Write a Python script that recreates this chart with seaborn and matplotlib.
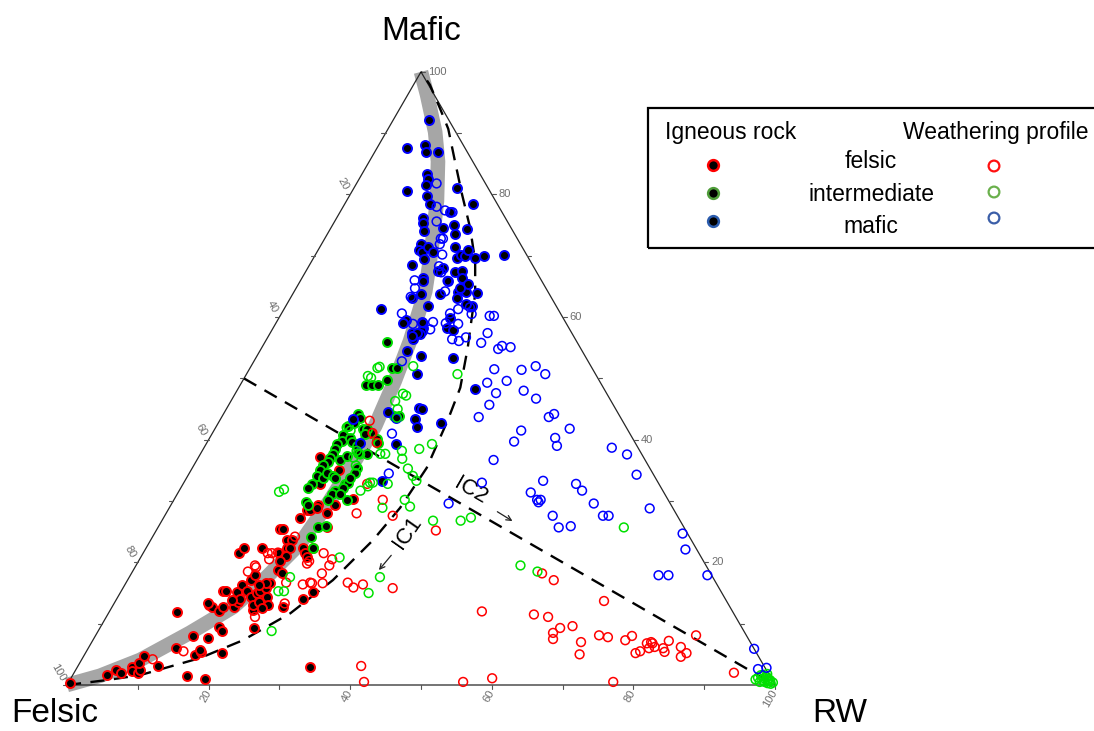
import numpy as np
import pandas as pd
import matplotlib
matplotlib.use("Agg")
import matplotlib.pyplot as plt
from matplotlib.patches import Rectangle
import seaborn as sns

sns.set_style("white")
plt.rcParams["font.family"] = ["Liberation Sans", "DejaVu Sans"]
plt.rcParams["text.color"] = "black"

# Compositions in percent as (Mafic, RW); Felsic is the remainder to 100.
ign_felsic = [
    (0.3, 0.3), (1.6, 4.8), (2.4, 5.7), (2.0, 6.6), (2.9, 7.7), (2.3, 8.1), (2.0, 9.0),
    (2.4, 9.1), (3.6, 8.4), (4.7, 8.5), (3.1, 11.3), (1.5, 16.2), (1.0, 19.0), (6.0, 12.4),
    (8.0, 13.8), (4.9, 15.6), (5.4, 16.2), (7.6, 16.1), (5.2, 19.3), (9.4, 16.8), (8.8, 17.5),
    (13.0, 13.6), (12.7, 14.1), (11.9, 9.6), (12.0, 15.5), (12.7, 15.7), (15.3, 14.4),
    (15.4, 14.8), (12.8, 17.2), (13.5, 17.4), (15.1, 16.5), (16.3, 16.5), (9.3, 21.7),
    (12.2, 20.2), (21.6, 13.5), (22.4, 13.8), (22.4, 16.3), (17.1, 17.5), (15.4, 17.7),
    (14.3, 18.9), (15.0, 19.3), (15.4, 19.6), (13.8, 20.8), (14.3, 21.1), (13.0, 21.9),
    (13.0, 19.8), (13.5, 20.3), (12.5, 21.3), (15.9, 20.2), (16.6, 20.4), (16.7, 19.7),
    (18.7, 20.4), (21.5, 19.2), (25.5, 17.4), (25.5, 17.7), (27.3, 19.3), (28.5, 19.7),
    (28.6, 20.0), (29.3, 20.8), (28.9, 20.9), (28.1, 22.7), (29.3, 23.2), (30.4, 25.2),
    (25.7, 23.9), (23.6, 19.3), (23.6, 20.0), (22.4, 19.9), (22.3, 20.4), (21.1, 20.4),
    (20.3, 20.0), (18.2, 21.3), (22.3, 22.2), (21.6, 22.8), (20.8, 23.5), (22.4, 23.5),
    (14.1, 17.4), (13.8, 16.4), (12.7, 24.2), (14.1, 26.3), (15.1, 27.2), (13.3, 13.2),
    (2.9, 32.9), (5.7, 16.0), (17.9, 17.6), (16.3, 18.9), (37.2, 17.1), (35.1, 20.8),
    (32.8, 19.3), (41.1, 22.4),
]

ign_intermediate = [
    (55.9, 17.2), (51.7, 20.0), (51.7, 20.7), (48.9, 17.8), (48.9, 18.6), (48.9, 19.5),
    (49.8, 20.3), (44.2, 19.0), (43.6, 19.6), (42.8, 19.1), (41.8, 20.9), (40.7, 18.6),
    (39.8, 18.9), (40.3, 19.8), (39.7, 20.4), (39.0, 21.4), (37.9, 22.1), (37.7, 23.5),
    (39.3, 18.5), (38.5, 18.6), (37.7, 18.7), (40.2, 23.7), (39.5, 24.2), (37.1, 18.6),
    (36.3, 18.7), (35.8, 18.2), (36.7, 20.2), (37.4, 20.8), (35.0, 18.2), (34.1, 18.3),
    (33.8, 19.2), (34.5, 19.5), (34.1, 20.5), (33.7, 21.0), (35.4, 23.2), (34.6, 23.4),
    (32.8, 18.2), (32.2, 17.9), (32.8, 22.9), (33.0, 23.2), (33.8, 23.1), (41.8, 21.5),
    (41.0, 21.6), (32.2, 22.9), (31.7, 22.0), (31.2, 21.8), (31.2, 22.9), (30.1, 21.8),
    (29.8, 18.8), (29.4, 19.3), (30.1, 24.5), (25.7, 22.6), (25.9, 23.6), (24.1, 22.4),
    (22.3, 23.6), (43.9, 24.3), (43.9, 24.9), (42.3, 18.5),
]

ign_mafic = [
    (92.2, 5.0), (87.5, 4.3), (88.1, 6.5), (87.0, 7.2), (87.0, 8.9), (83.4, 9.1), (82.6, 9.7),
    (81.5, 10.0), (80.6, 7.7), (81.0, 14.6), (79.8, 10.9), (78.4, 12.1), (78.4, 18.1),
    (76.1, 12.2), (75.3, 12.6), (77.1, 15.6), (74.6, 15.8), (75.0, 17.1), (73.5, 18.1),
    (74.3, 19.4), (74.1, 13.4), (71.9, 14.1), (70.9, 14.2), (70.6, 14.8), (71.4, 15.3),
    (70.7, 16.3), (71.5, 19.0), (69.4, 15.7), (68.5, 14.5), (68.0, 19.1), (69.6, 20.3),
    (70.1, 20.6), (69.9, 21.3), (69.6, 22.8), (69.9, 24.0), (70.2, 26.6), (70.9, 21.2),
    (67.3, 21.1), (67.6, 22.0), (66.3, 17.1), (65.9, 17.4), (65.9, 20.8), (66.3, 22.7),
    (64.1, 23.2), (64.1, 24.3), (63.9, 25.9), (63.1, 17.2), (63.7, 18.2), (63.7, 20.8),
    (63.1, 23.6), (67.5, 18.7), (65.4, 23.9), (64.7, 23.1), (61.8, 20.1), (61.3, 13.7),
    (59.8, 24.2), (61.8, 26.3), (62.1, 25.3), (58.2, 21.2), (58.2, 24.6), (59.5, 18.1),
    (59.0, 17.9), (59.2, 20.5), (57.9, 25.5), (57.7, 21.3), (57.2, 21.2), (57.4, 20.0),
    (56.4, 20.7), (54.5, 20.8), (53.7, 23.1), (53.3, 27.9), (50.7, 24.1), (48.3, 33.5),
    (45.2, 27.1), (45.0, 27.6), (43.6, 24.7), (43.4, 27.4), (42.1, 28.4), (44.6, 23.0),
    (42.8, 31.4), (39.3, 26.8), (43.4, 18.7), (39.5, 21.6), (33.2, 27.9), (57.4, 20.7),
    (56.9, 20.3),
]

wp_felsic = [
    (18.2, 58.0), (17.1, 60.2), (13.7, 69.0), (12.0, 52.6), (11.5, 60.2), (11.1, 62.4),
    (9.6, 66.6), (9.3, 65.0), (8.5, 64.4), (7.5, 64.9), (7.0, 69.1), (5.0, 69.9), (8.1, 71.1),
    (7.8, 72.5), (7.3, 75.2), (8.0, 75.8), (6.8, 78.5), (7.0, 79.0), (6.8, 79.3), (6.0, 79.2),
    (6.2, 79.9), (6.0, 81.2), (5.4, 81.7), (7.2, 81.4), (6.2, 83.6), (4.6, 84.4), (5.2, 84.9),
    (5.2, 77.7), (5.5, 78.2), (8.1, 84.8), (2.0, 93.2), (0.5, 55.7), (1.1, 59.5), (0.5, 76.9),
    (3.1, 40.0), (0.5, 41.7), (4.2, 10.0), (5.5, 13.7), (18.5, 16.3), (19.5, 16.8),
    (19.2, 17.1), (20.5, 18.3), (21.5, 18.2), (21.6, 19.0), (13.3, 24.1), (11.1, 21.0),
    (43.1, 21.2), (39.5, 24.0), (28.0, 26.9), (27.6, 32.2), (30.2, 29.5), (25.2, 39.5),
    (32.8, 26.0), (21.5, 25.5), (20.5, 27.2), (19.5, 27.3), (19.8, 24.0), (20.2, 24.1),
    (18.2, 26.9), (16.7, 26.0), (16.6, 26.3), (16.4, 25.1), (16.6, 27.8), (16.7, 31.3),
    (15.9, 32.5), (16.4, 33.6), (15.8, 38.1), (16.7, 22.6), (24.2, 20.1), (21.5, 17.6),
    (41.1, 22.6),
]

wp_intermediate = [
    (51.7, 18.0), (51.9, 18.2), (50.4, 17.3), (50.1, 17.9), (52.0, 22.9), (46.3, 23.2),
    (45.0, 24.2), (47.5, 23.7), (47.2, 24.3), (43.6, 24.8), (38.5, 30.5), (39.3, 31.9),
    (38.2, 28.2), (36.9, 28.9), (37.7, 25.4), (42.0, 18.5), (41.5, 19.3), (37.1, 21.9),
    (38.2, 21.8), (37.6, 22.6), (35.8, 22.9), (33.0, 26.3), (33.0, 26.7), (32.8, 28.9),
    (31.5, 14.2), (31.9, 14.7), (50.7, 29.8), (37.7, 26.1), (35.3, 30.5), (34.1, 31.8),
    (26.8, 42.2), (27.3, 43.4), (25.7, 65.8), (19.5, 54.3), (18.5, 57.2), (33.3, 32.7),
    (32.4, 26.3), (31.7, 25.6), (28.9, 30.1), (30.2, 32.6), (29.1, 33.9), (26.8, 38.3),
    (20.8, 28.1), (17.6, 22.7), (15.3, 22.2), (15.3, 23.0), (17.6, 35.4), (15.0, 35.1),
    (8.8, 24.5), (1.2, 97.0), (0.8, 97.8), (0.5, 98.3), (0.3, 98.8), (1.5, 97.5), (1.8, 98.0),
    (0.6, 99.0), (1.0, 98.5), (0.2, 99.3), (0.9, 96.8), (1.3, 98.2), (0.7, 98.6), (0.4, 99.5),
    (1.1, 97.9), (0.8, 98.9), (1.6, 97.2), (0.5, 97.6),
]

wp_mafic = [
    (81.8, 11.3), (78.0, 13.2), (77.4, 14.7), (77.1, 15.9), (75.6, 14.4), (72.8, 16.4),
    (72.8, 16.7), (71.9, 16.7), (70.2, 17.9), (68.3, 18.4), (67.3, 19.2), (65.9, 20.8),
    (64.2, 21.3), (66.0, 16.1), (64.7, 16.8), (63.3, 16.9), (60.6, 17.0), (58.9, 19.4),
    (59.0, 20.8), (59.2, 22.1), (58.0, 22.3), (60.6, 23.8), (61.3, 24.6), (58.9, 25.8),
    (56.7, 28.0), (56.1, 27.3), (56.4, 26.2), (61.6, 26.1), (60.5, 26.9), (60.2, 29.6),
    (60.2, 30.2), (52.8, 20.9), (41.0, 25.4), (34.5, 28.2), (59.0, 24.0), (57.4, 30.7),
    (55.8, 30.6), (54.8, 33.5), (55.3, 33.8), (55.1, 35.1), (51.5, 34.6), (51.4, 38.5),
    (52.0, 40.2), (50.7, 42.2), (49.6, 37.3), (49.3, 34.7), (47.6, 36.8), (48.0, 40.5),
    (46.7, 42.9), (45.7, 36.8), (43.7, 36.3), (43.7, 46.2), (44.2, 46.7), (41.8, 50.1),
    (41.5, 43.4), (39.7, 43.3), (40.3, 48.8), (39.0, 49.7), (36.7, 41.9), (38.7, 57.6),
    (37.6, 60.3), (34.3, 63.3), (33.0, 42.1), (33.3, 50.6), (31.4, 49.8), (30.2, 51.3),
    (29.8, 51.7), (30.2, 51.8), (32.8, 55.5), (31.7, 56.9), (29.6, 59.6), (29.6, 39.1),
    (27.6, 54.8), (25.7, 56.6), (25.9, 58.2), (27.6, 61.9), (27.6, 62.7), (28.8, 67.9),
    (24.7, 74.6), (22.1, 76.3), (17.9, 74.6), (17.9, 76.0), (17.9, 81.5), (5.9, 94.1),
    (2.6, 96.3), (2.8, 97.4),
]

# Mixing trend (grey band) and the IC1 envelope (dashed curve), as (Mafic, RW)
band_mafic = [0, 1.5, 4.1, 8.5, 12.7, 17.6, 23.1, 30.1, 36.6, 42.3, 49.6, 56.1, 64.2,
              70.7, 78.9, 85.4, 90.2, 96.3, 100]
band_rw = [0, 3.9, 8.3, 13.1, 17.1, 19.4, 21.4, 22.1, 22.4, 22.4, 21.5, 20.4, 18.5,
           16.1, 12.8, 9.7, 6.9, 2.7, 0]
ic1_mafic = [0, 0.8, 1.6, 4.4, 7.3, 11.7, 17.1, 23.6, 28.9, 35.4, 43.1, 48.5, 55.0,
             61.0, 63.7, 69.1, 74.5, 80.0, 85.4, 90.7, 94.0, 97.9, 100]
ic1_rw = [0, 5.2, 9.5, 16.6, 21.2, 25.7, 29.0, 31.4, 32.6, 33.1, 32.2, 31.3, 29.1,
          26.8, 25.8, 23.1, 19.7, 15.8, 12.1, 8.5, 5.7, 2.3, 0]
ic2_mafic = [50, 0]
ic2_rw = [0, 100]

tick_values = [10, 20, 30, 40, 50, 60, 70, 80, 90, 100]
label_values = [20, 40, 60, 80, 100]

H3 = np.sqrt(3) / 2


def to_xy(mafic, rw):
    m = np.asarray(mafic, dtype=float)
    r = np.asarray(rw, dtype=float)
    return r + m / 2, m * H3


def frame(pairs):
    df = pd.DataFrame(pairs, columns=["mafic", "rw"])
    df["felsic"] = 100 - df["mafic"] - df["rw"]
    df["x"], df["y"] = to_xy(df["mafic"], df["rw"])
    return df


W, H = 1094, 731
PX = 7.08          # pixels per percent unit
OX, OY = 67, 685   # Felsic corner in pixels

fig = plt.figure(figsize=(W / 100, H / 100), dpi=100)
ax = fig.add_axes([0, 0, 1, 1])

# triangle frame
ax.plot([0, 100, 50, 0], [0, 0, 100 * H3, 0], color="#262626", lw=0.9, zorder=2)

tick_len = 0.6
tick_col = "#555555"
lab_col = "#6e6e6e"
for v in tick_values:
    # bottom edge: RW
    ax.plot([v, v], [0, -tick_len], color=tick_col, lw=0.8, zorder=2)
    # right edge: Mafic
    xr, yr = to_xy(v, 100 - v)
    ax.plot([xr, xr + tick_len], [yr, yr], color=tick_col, lw=0.8, zorder=2)
    # left edge: Felsic
    xl, yl = to_xy(100 - v, 0)
    ax.plot([xl, xl - tick_len], [yl, yl], color=tick_col, lw=0.8, zorder=2)
    if v in label_values:
        ax.annotate(str(v), xy=(v, 0), xytext=(0, -4), textcoords="offset points",
                    rotation=60, rotation_mode="anchor", ha="right", va="center",
                    fontsize=8, color=lab_col)
        ax.annotate(str(v), xy=(xr, yr), xytext=(5, 0), textcoords="offset points",
                    ha="left", va="center", fontsize=8, color=lab_col)
        ax.annotate(str(v), xy=(xl, yl), xytext=(-3, 3.5), textcoords="offset points",
                    rotation=-60, rotation_mode="anchor", ha="right", va="center",
                    fontsize=8, color=lab_col)

# mixing band
bx, by = to_xy(band_mafic, band_rw)
ax.plot(bx, by, color="#a6a6a6", lw=10.5, solid_capstyle="butt", zorder=1)

# IC axes
cx, cy = to_xy(ic1_mafic, ic1_rw)
ax.plot(cx, cy, color="black", lw=1.7, dashes=(6, 4), zorder=2.5)
lx, ly = to_xy(ic2_mafic, ic2_rw)
ax.plot(lx, ly, color="black", lw=1.7, dashes=(6, 4), zorder=2.5)

# igneous rocks: black dots with coloured rims
for pairs, edge in [(ign_felsic, "#ff0000"), (ign_intermediate, "#00dd00"),
                    (ign_mafic, "#0000ff")]:
    sns.scatterplot(data=frame(pairs), x="x", y="y", ax=ax, color="black",
                    edgecolor=edge, linewidth=1.4, s=42, legend=False, zorder=3)

# weathering profiles: open circles
for pairs, edge in [(wp_felsic, "#ff0000"), (wp_intermediate, "#00e000"),
                    (wp_mafic, "#0000ff")]:
    sns.scatterplot(data=frame(pairs), x="x", y="y", ax=ax, color=edge,
                    facecolor="none", edgecolor=edge, linewidth=1.1, s=40,
                    legend=False, zorder=4)

ax.set_xlim(-OX / PX, (W - OX) / PX)
ax.set_ylim(-(H - OY) / PX, OY / PX)
ax.axis("off")

# IC labels and arrows
tx, ty = to_xy(24.9, 35.7)
ax.text(tx, ty, "IC1", rotation=55, ha="center", va="center", fontsize=16, color="black")
a0 = to_xy(21.5, 35.3)
a1 = to_xy(18.4, 34.6)
ax.annotate("", xy=a1, xytext=a0,
            arrowprops=dict(arrowstyle="->", lw=0.9, color="#222222", mutation_scale=9))
tx, ty = to_xy(31.7, 41.1)
ax.text(tx, ty, "IC2", rotation=-30, ha="center", va="center", fontsize=16, color="black")
a0 = to_xy(28.5, 46.2)
a1 = to_xy(26.5, 50.0)
ax.annotate("", xy=a1, xytext=a0,
            arrowprops=dict(arrowstyle="->", lw=0.9, color="#222222", mutation_scale=9))

# corner titles
fig.text(421 / W, 1 - 31 / H, "Mafic", ha="center", va="center", fontsize=24)
fig.text(55 / W, 1 - 714 / H, "Felsic", ha="center", va="center", fontsize=24)
fig.text(840 / W, 1 - 714 / H, "RW", ha="center", va="center", fontsize=24)

# legend panel
fig.patches.append(Rectangle((648 / W, 1 - 248 / H), (1110 - 648) / W, 140 / H,
                             transform=fig.transFigure, fill=False, lw=1.6,
                             edgecolor="black", clip_on=False))
fig.text(665 / W, 1 - 133 / H, "Igneous rock", ha="left", va="center", fontsize=16.5)
fig.text(903 / W, 1 - 133 / H, "Weathering profile", ha="left", va="center", fontsize=16.5)
legend_names = ["felsic", "intermediate", "mafic"]
legend_y = [162, 194, 226]
filled_y = [165, 193, 221]
open_y = [166, 192, 218]
filled_edges = ["#ff0000", "#4f9d3a", "#2b5cad"]
open_edges = ["#ff1010", "#6ab04c", "#3b5ea8"]
for name, yt, yf, yo, fe, oe in zip(legend_names, legend_y, filled_y, open_y,
                                    filled_edges, open_edges):
    fig.text(871 / W, 1 - yt / H, name, ha="center", va="center", fontsize=16.5)
    ax.scatter([713 / W], [1 - yf / H], s=60, color="black", edgecolor=fe, lw=1.8,
               transform=fig.transFigure, clip_on=False, zorder=5)
    ax.scatter([994 / W], [1 - yo / H], s=60, facecolor="none", edgecolor=oe, lw=1.6,
               transform=fig.transFigure, clip_on=False, zorder=5)

fig.savefig("out.png", dpi=100, facecolor="white")
